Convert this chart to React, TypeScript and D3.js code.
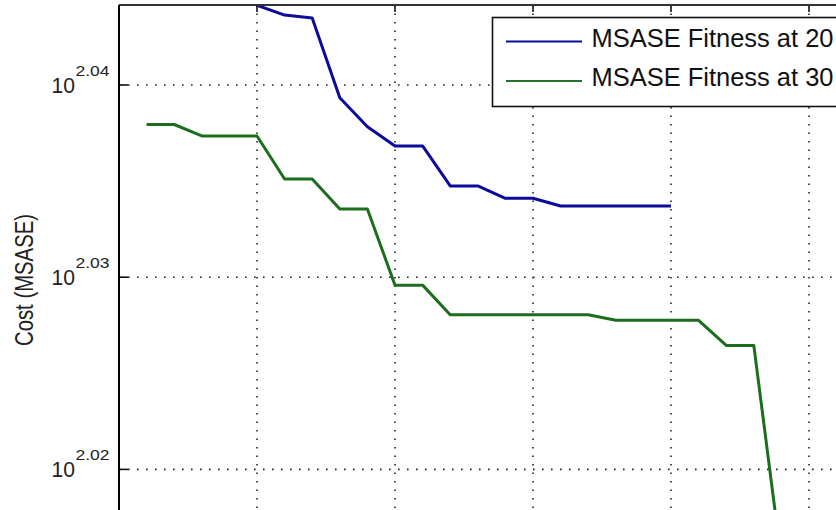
import React from "react";
import * as d3 from "d3";

const iterations = [1, 2, 3, 4, 5, 6, 7, 8, 9, 10, 11, 12, 13, 14, 15, 16, 17, 18, 19, 20, 21, 22, 23, 24, 25, 26, 27, 28, 29, 30];
const costAt20 = [111.9, 111.9, 111.5, 111.2, 110.7, 110.57, 110.53, 109.48, 109.1, 108.85, 108.85, 108.33, 108.33, 108.17, 108.17, 108.07, 108.07, 108.07, 108.07, 108.07];
const costAt30 = [109.13, 109.13, 108.98, 108.98, 108.98, 108.42, 108.42, 108.03, 108.03, 107.05, 107.05, 106.67, 106.67, 106.67, 106.67, 106.67, 106.67, 106.6, 106.6, 106.6, 106.6, 106.28, 106.28, 103.58, 103.2, 103.0, 102.9, 102.9, 102.8, 102.8];
const seriesNames = ["MSASE Fitness at 20", "MSASE Fitness at 30"];
const xTicks = [5, 10, 15, 20, 25];
const yTickExponents = ["2.02", "2.03", "2.04"];
const yLabel = "Cost (MSASE)";

const W = 836;
const H = 510;
const left = 119;
const top = 5;
const right = 947;
const bottom = 853.8;

const FONT = "'Liberation Sans', Arial, Helvetica, sans-serif";

export default function App() {
  const x = d3.scaleLinear().domain([0, 30]).range([left, right]);
  const y = d3
    .scaleLog()
    .domain([Math.pow(10, 2.0), Math.pow(10, 2.044162)])
    .range([bottom, top]);

  const line = d3
    .line<[number, number]>()
    .x((d) => x(d[0]))
    .y((d) => y(d[1]));

  const blue: [number, number][] = costAt20.map((v, i) => [iterations[i], v]);
  const green: [number, number][] = costAt30.map((v, i) => [iterations[i], v]);

  const blueColor = "#0b0b9c";
  const greenColor = "#1c6e1c";

  return (
    <svg
      width={W}
      height={H}
      style={{ position: "fixed", left: 0, top: 0, background: "#fff" }}
      fontFamily={FONT}
    >
      <defs>
        <clipPath id="plotclip">
          <rect x={left} y={top} width={right - left} height={bottom - top} />
        </clipPath>
      </defs>
      <rect x={0} y={0} width={W} height={H} fill="#fff" />
      {/* grid */}
      {xTicks.map((t) => (
        <line
          key={"gx" + t}
          x1={x(t)}
          x2={x(t)}
          y1={top}
          y2={H}
          stroke="#222"
          strokeWidth={1.6}
          strokeDasharray="1.6 6.9"
        />
      ))}
      {yTickExponents.map((e) => {
        const yy = y(Math.pow(10, +e));
        return (
          <line
            key={"gy" + e}
            x1={left}
            x2={W}
            y1={yy}
            y2={yy}
            stroke="#222"
            strokeWidth={1.6}
            strokeDasharray="1.6 7.4"
          />
        );
      })}
      {/* ticks */}
      {xTicks.map((t) => (
        <line key={"tx" + t} x1={x(t)} x2={x(t)} y1={top} y2={top + 7} stroke="#111" strokeWidth={1.6} />
      ))}
      {yTickExponents.map((e) => {
        const yy = y(Math.pow(10, +e));
        return <line key={"ty" + e} x1={left} x2={left + 9} y1={yy} y2={yy} stroke="#111" strokeWidth={1.6} />;
      })}
      {/* series */}
      <g clipPath="url(#plotclip)" fill="none" strokeLinejoin="round">
        <path d={line(blue) || ""} stroke={blueColor} strokeWidth={3} />
        <path d={line(green) || ""} stroke={greenColor} strokeWidth={3} />
      </g>
      {/* axes frame */}
      <line x1={left} x2={W} y1={top} y2={top} stroke="#333" strokeWidth={2} />
      <line x1={left} x2={left} y1={top} y2={H} stroke="#000" strokeWidth={2} />
      {/* y tick labels */}
      {yTickExponents.map((e) => {
        const yy = y(Math.pow(10, +e));
        return (
          <g key={"yl" + e} fill="#222">
            <text x={75} y={yy + 8} fontSize={22} textAnchor="end" textLength={23.5} lengthAdjust="spacingAndGlyphs">
              10
            </text>
            <text x={75.5} y={yy - 9} fontSize={14} textLength={34} lengthAdjust="spacingAndGlyphs">
              {e}
            </text>
          </g>
        );
      })}
      {/* y label */}
      <text
        transform="translate(33,280) rotate(-90)"
        textAnchor="middle"
        fontSize={26}
        fill="#222"
        textLength={132}
        lengthAdjust="spacingAndGlyphs"
      >
        {yLabel}
      </text>
      {/* legend */}
      <rect x={492.5} y={17.5} width={380} height={89} fill="#fff" stroke="#111" strokeWidth={1.6} />
      {seriesNames.map((name, i) => {
        const ly = i === 0 ? 41.5 : 81;
        return (
          <g key={name}>
            <line x1={506} x2={582} y1={ly} y2={ly} stroke={i === 0 ? blueColor : "#2a6e2a"} strokeWidth={2.2} />
            <text x={591.5} y={ly + 5} fontSize={25} fill="#111" textLength={242} lengthAdjust="spacingAndGlyphs">
              {name}
            </text>
          </g>
        );
      })}
    </svg>
  );
}
